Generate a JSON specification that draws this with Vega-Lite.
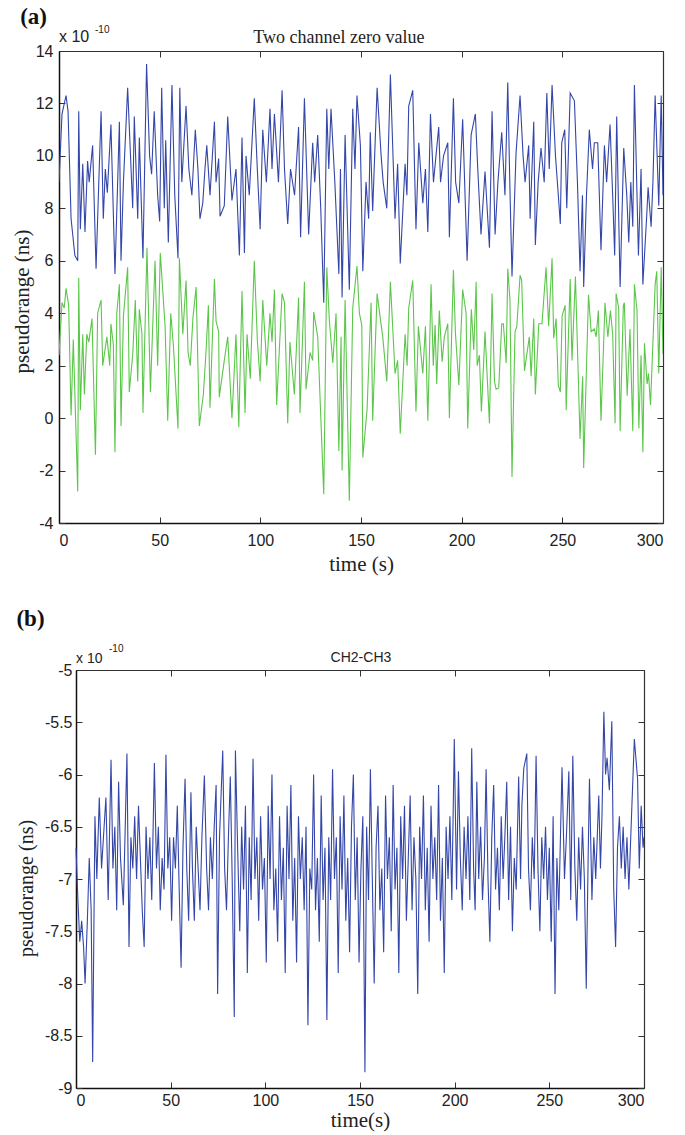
{
"$schema": "https://vega.github.io/schema/vega-lite/v6.json",
"background": "white",
"padding": {"left": 11, "top": 6, "right": 5, "bottom": 2},
"config": {
  "view": {"stroke": null},
  "font": "Liberation Sans",
  "axis": {"grid": false, "domainColor": "#111", "domainWidth": 1.5, "tickColor": "#333", "tickWidth": 1, "tickSize": -6, "labelColor": "#222", "titleColor": "#222", "labelFont": "Liberation Sans", "labelFontSize": 16, "titleFont": "Liberation Serif", "titleFontWeight": "normal", "titleFontSize": 20, "labelPadding": 10},
  "title": {"font": "Liberation Serif", "fontWeight": "bold", "fontSize": 23, "anchor": "start", "frame": "bounds", "color": "#111"}
},
"datasets": {
"a": [
{"s":"b","t":0,"v":9.0},{"s":"b","t":1.5,"v":11.6},{"s":"b","t":3.5,"v":12.3},{"s":"b","t":4.5,"v":11.7},{"s":"b","t":6,"v":7.6},{"s":"b","t":7.9,"v":6.2},{"s":"b","t":9.3,"v":6.0},{"s":"b","t":9.8,"v":11.7},{"s":"b","t":10.6,"v":7.2},{"s":"b","t":11.8,"v":9.7},{"s":"b","t":12.9,"v":7.1},{"s":"b","t":14.2,"v":9.8},{"s":"b","t":15,"v":9.0},{"s":"b","t":16.7,"v":10.4},{"s":"b","t":18.4,"v":5.7},{"s":"b","t":20.9,"v":11.7},{"s":"b","t":22,"v":7.6},{"s":"b","t":23,"v":9.5},{"s":"b","t":24,"v":8.6},{"s":"b","t":25.8,"v":11.2},{"s":"b","t":27.8,"v":5.5},{"s":"b","t":30,"v":11.3},{"s":"b","t":30.8,"v":6.0},{"s":"b","t":32,"v":9.0},{"s":"b","t":34.1,"v":12.6},{"s":"b","t":36.6,"v":8.0},{"s":"b","t":37.4,"v":11.5},{"s":"b","t":39.1,"v":7.6},{"s":"b","t":39.9,"v":10.7},{"s":"b","t":41.7,"v":6.1},{"s":"b","t":43.5,"v":13.5},{"s":"b","t":45,"v":10.0},{"s":"b","t":46,"v":9.3},{"s":"b","t":47.3,"v":11.7},{"s":"b","t":49,"v":8.5},{"s":"b","t":50,"v":7.5},{"s":"b","t":51,"v":12.6},{"s":"b","t":52.3,"v":8.0},{"s":"b","t":53,"v":10.6},{"s":"b","t":54.3,"v":6.7},{"s":"b","t":56.1,"v":12.7},{"s":"b","t":57.5,"v":8.5},{"s":"b","t":59.1,"v":6.1},{"s":"b","t":60,"v":12.6},{"s":"b","t":61,"v":9.0},{"s":"b","t":63.1,"v":11.9},{"s":"b","t":64.5,"v":9.5},{"s":"b","t":66,"v":8.5},{"s":"b","t":67.7,"v":11.0},{"s":"b","t":69,"v":9.5},{"s":"b","t":70,"v":7.6},{"s":"b","t":71.4,"v":8.2},{"s":"b","t":72.5,"v":9.5},{"s":"b","t":73.4,"v":10.4},{"s":"b","t":75,"v":8.5},{"s":"b","t":77.2,"v":11.3},{"s":"b","t":78,"v":9.0},{"s":"b","t":79.3,"v":9.9},{"s":"b","t":80,"v":7.7},{"s":"b","t":82.1,"v":8.1},{"s":"b","t":83.8,"v":11.5},{"s":"b","t":85.9,"v":8.3},{"s":"b","t":87.9,"v":9.5},{"s":"b","t":89.6,"v":6.2},{"s":"b","t":90.9,"v":10.7},{"s":"b","t":92.1,"v":6.3},{"s":"b","t":92.9,"v":10.0},{"s":"b","t":94.5,"v":8.5},{"s":"b","t":97,"v":12.2},{"s":"b","t":98.5,"v":9.5},{"s":"b","t":99.9,"v":7.2},{"s":"b","t":101.2,"v":11.0},{"s":"b","t":103,"v":9.0},{"s":"b","t":104.8,"v":11.8},{"s":"b","t":105.8,"v":9.5},{"s":"b","t":107,"v":11.6},{"s":"b","t":109,"v":9.0},{"s":"b","t":110.8,"v":12.5},{"s":"b","t":112,"v":9.5},{"s":"b","t":113.6,"v":7.4},{"s":"b","t":115,"v":9.5},{"s":"b","t":117,"v":8.5},{"s":"b","t":119,"v":11.1},{"s":"b","t":120,"v":6.9},{"s":"b","t":121.9,"v":12.2},{"s":"b","t":124,"v":7.0},{"s":"b","t":126,"v":10.5},{"s":"b","t":127,"v":9.0},{"s":"b","t":128.5,"v":10.8},{"s":"b","t":130,"v":8.0},{"s":"b","t":131.5,"v":4.4},{"s":"b","t":133,"v":11.8},{"s":"b","t":134,"v":9.5},{"s":"b","t":135.1,"v":11.8},{"s":"b","t":137,"v":9.0},{"s":"b","t":139,"v":5.5},{"s":"b","t":139.8,"v":9.5},{"s":"b","t":140.6,"v":4.6},{"s":"b","t":142.1,"v":10.8},{"s":"b","t":144.2,"v":4.9},{"s":"b","t":145.9,"v":11.8},{"s":"b","t":147,"v":9.5},{"s":"b","t":148,"v":12.3},{"s":"b","t":149.7,"v":10.4},{"s":"b","t":150.9,"v":5.6},{"s":"b","t":152.5,"v":9.0},{"s":"b","t":153.8,"v":7.6},{"s":"b","t":154.6,"v":10.9},{"s":"b","t":155.8,"v":7.9},{"s":"b","t":158,"v":12.6},{"s":"b","t":160,"v":10.0},{"s":"b","t":161,"v":9.0},{"s":"b","t":162.8,"v":8.0},{"s":"b","t":164.6,"v":13.1},{"s":"b","t":166.9,"v":7.6},{"s":"b","t":168.2,"v":9.7},{"s":"b","t":169.5,"v":5.9},{"s":"b","t":171.9,"v":9.7},{"s":"b","t":172.8,"v":8.5},{"s":"b","t":173.7,"v":11.9},{"s":"b","t":175.7,"v":12.5},{"s":"b","t":177.3,"v":7.2},{"s":"b","t":178.7,"v":10.5},{"s":"b","t":180.7,"v":8.2},{"s":"b","t":182,"v":9.5},{"s":"b","t":183.2,"v":7.1},{"s":"b","t":184.5,"v":11.6},{"s":"b","t":186,"v":9.0},{"s":"b","t":188.6,"v":11.1},{"s":"b","t":189.5,"v":9.0},{"s":"b","t":191,"v":10.0},{"s":"b","t":193.1,"v":10.5},{"s":"b","t":193.9,"v":6.9},{"s":"b","t":195.9,"v":12.2},{"s":"b","t":197,"v":9.0},{"s":"b","t":198.6,"v":8.2},{"s":"b","t":200.5,"v":11.4},{"s":"b","t":202.7,"v":6.0},{"s":"b","t":204.7,"v":10.8},{"s":"b","t":206.8,"v":11.6},{"s":"b","t":208,"v":9.5},{"s":"b","t":209.6,"v":7.0},{"s":"b","t":211.6,"v":9.4},{"s":"b","t":213.8,"v":6.5},{"s":"b","t":215.1,"v":11.7},{"s":"b","t":216.6,"v":7.0},{"s":"b","t":218,"v":9.0},{"s":"b","t":219.9,"v":10.9},{"s":"b","t":221.5,"v":8.5},{"s":"b","t":222.9,"v":12.8},{"s":"b","t":223.9,"v":9.0},{"s":"b","t":225,"v":5.4},{"s":"b","t":227,"v":10.1},{"s":"b","t":229,"v":12.3},{"s":"b","t":230.5,"v":10.0},{"s":"b","t":231.5,"v":9.0},{"s":"b","t":233.3,"v":10.4},{"s":"b","t":234,"v":7.6},{"s":"b","t":235.8,"v":11.3},{"s":"b","t":236.6,"v":6.6},{"s":"b","t":238,"v":9.0},{"s":"b","t":239.4,"v":10.3},{"s":"b","t":241,"v":9.0},{"s":"b","t":242.3,"v":12.4},{"s":"b","t":243.5,"v":9.5},{"s":"b","t":244.9,"v":12.7},{"s":"b","t":246.6,"v":10.0},{"s":"b","t":248,"v":8.5},{"s":"b","t":249,"v":7.4},{"s":"b","t":249.7,"v":10.5},{"s":"b","t":251.2,"v":11.0},{"s":"b","t":252.2,"v":8.0},{"s":"b","t":253.9,"v":12.4},{"s":"b","t":256,"v":12.1},{"s":"b","t":257.5,"v":9.0},{"s":"b","t":258.8,"v":5.6},{"s":"b","t":260,"v":8.5},{"s":"b","t":260.6,"v":5.0},{"s":"b","t":262,"v":8.5},{"s":"b","t":263.4,"v":11.0},{"s":"b","t":265,"v":9.5},{"s":"b","t":265.9,"v":10.5},{"s":"b","t":267.6,"v":10.5},{"s":"b","t":269.2,"v":6.4},{"s":"b","t":270.9,"v":10.4},{"s":"b","t":272,"v":9.0},{"s":"b","t":273.7,"v":11.2},{"s":"b","t":275,"v":8.5},{"s":"b","t":276,"v":6.2},{"s":"b","t":277,"v":11.5},{"s":"b","t":278.7,"v":5.0},{"s":"b","t":280.5,"v":10.3},{"s":"b","t":282,"v":8.5},{"s":"b","t":283,"v":6.7},{"s":"b","t":284,"v":9.0},{"s":"b","t":285,"v":7.3},{"s":"b","t":285.8,"v":12.7},{"s":"b","t":287.8,"v":6.2},{"s":"b","t":289.1,"v":9.5},{"s":"b","t":290,"v":5.1},{"s":"b","t":291.9,"v":7.7},{"s":"b","t":292.6,"v":8.8},{"s":"b","t":294.1,"v":7.3},{"s":"b","t":295,"v":9.0},{"s":"b","t":296.1,"v":12.3},{"s":"b","t":297.9,"v":8.1},{"s":"b","t":299.1,"v":12.3},{"s":"b","t":300,"v":8.5},
{"s":"g","t":0,"v":2.4},{"s":"g","t":1.5,"v":4.4},{"s":"g","t":2.6,"v":4.2},{"s":"g","t":3.5,"v":4.95},{"s":"g","t":4.8,"v":4.3},{"s":"g","t":6,"v":0.1},{"s":"g","t":7.1,"v":3.0},{"s":"g","t":9.3,"v":-2.8},{"s":"g","t":9.8,"v":5.35},{"s":"g","t":10.6,"v":0.3},{"s":"g","t":11.8,"v":3.2},{"s":"g","t":12.6,"v":0.9},{"s":"g","t":13.8,"v":3.2},{"s":"g","t":14.8,"v":2.9},{"s":"g","t":16.4,"v":3.8},{"s":"g","t":18.1,"v":-1.4},{"s":"g","t":19.2,"v":4.0},{"s":"g","t":20.9,"v":4.5},{"s":"g","t":21.7,"v":2.0},{"s":"g","t":23.8,"v":3.1},{"s":"g","t":25.2,"v":2.0},{"s":"g","t":25.8,"v":3.6},{"s":"g","t":27,"v":2.8},{"s":"g","t":27.8,"v":-1.3},{"s":"g","t":28.7,"v":4.0},{"s":"g","t":30,"v":5.1},{"s":"g","t":30.8,"v":-0.3},{"s":"g","t":32,"v":3.9},{"s":"g","t":34.1,"v":5.75},{"s":"g","t":34.9,"v":1.0},{"s":"g","t":36.6,"v":2.4},{"s":"g","t":37.9,"v":4.5},{"s":"g","t":39.1,"v":1.4},{"s":"g","t":39.9,"v":4.15},{"s":"g","t":41.2,"v":3.2},{"s":"g","t":41.7,"v":0.2},{"s":"g","t":43.7,"v":6.5},{"s":"g","t":45.4,"v":1.0},{"s":"g","t":47.7,"v":6.0},{"s":"g","t":49,"v":2.0},{"s":"g","t":50.3,"v":6.3},{"s":"g","t":52.7,"v":3.5},{"s":"g","t":54,"v":-0.1},{"s":"g","t":55.5,"v":4.0},{"s":"g","t":56.8,"v":2.8},{"s":"g","t":59.1,"v":-0.4},{"s":"g","t":59.8,"v":6.1},{"s":"g","t":61.5,"v":3.2},{"s":"g","t":63.1,"v":5.25},{"s":"g","t":64.1,"v":2.5},{"s":"g","t":65.2,"v":2.0},{"s":"g","t":66.5,"v":3.8},{"s":"g","t":68.1,"v":5.0},{"s":"g","t":69.7,"v":-0.3},{"s":"g","t":71.7,"v":0.9},{"s":"g","t":73,"v":2.5},{"s":"g","t":74.2,"v":4.3},{"s":"g","t":75,"v":0.4},{"s":"g","t":77.2,"v":5.3},{"s":"g","t":78,"v":3.7},{"s":"g","t":79.3,"v":3.3},{"s":"g","t":79.6,"v":0.8},{"s":"g","t":82.1,"v":2.2},{"s":"g","t":83.8,"v":3.1},{"s":"g","t":85.9,"v":0.0},{"s":"g","t":87.9,"v":3.2},{"s":"g","t":89.3,"v":-0.35},{"s":"g","t":90.9,"v":4.85},{"s":"g","t":92.4,"v":0.2},{"s":"g","t":93.4,"v":3.2},{"s":"g","t":95,"v":1.5},{"s":"g","t":97,"v":6.0},{"s":"g","t":98.5,"v":3.0},{"s":"g","t":99.9,"v":1.4},{"s":"g","t":101.2,"v":4.5},{"s":"g","t":103.2,"v":2.0},{"s":"g","t":104.8,"v":4.0},{"s":"g","t":105.8,"v":2.9},{"s":"g","t":107,"v":4.9},{"s":"g","t":108.1,"v":0.5},{"s":"g","t":110.8,"v":4.75},{"s":"g","t":112,"v":4.4},{"s":"g","t":113.6,"v":-0.2},{"s":"g","t":114.7,"v":2.9},{"s":"g","t":116.9,"v":0.9},{"s":"g","t":119,"v":4.6},{"s":"g","t":119.7,"v":0.2},{"s":"g","t":121.9,"v":5.2},{"s":"g","t":122.7,"v":1.1},{"s":"g","t":124.7,"v":2.5},{"s":"g","t":126,"v":2.2},{"s":"g","t":126.5,"v":4.05},{"s":"g","t":128.5,"v":3.1},{"s":"g","t":131.5,"v":-2.9},{"s":"g","t":133,"v":5.75},{"s":"g","t":134.3,"v":3.7},{"s":"g","t":136,"v":2.1},{"s":"g","t":137.6,"v":4.0},{"s":"g","t":139,"v":-1.25},{"s":"g","t":140.1,"v":3.1},{"s":"g","t":140.6,"v":-2.0},{"s":"g","t":142.1,"v":4.5},{"s":"g","t":144.2,"v":-3.15},{"s":"g","t":145.9,"v":4.2},{"s":"g","t":148,"v":5.8},{"s":"g","t":149.2,"v":4.0},{"s":"g","t":150.4,"v":3.55},{"s":"g","t":150.9,"v":-1.5},{"s":"g","t":153,"v":0.3},{"s":"g","t":155,"v":4.4},{"s":"g","t":155.8,"v":-0.1},{"s":"g","t":158,"v":4.75},{"s":"g","t":160.8,"v":3.1},{"s":"g","t":162.8,"v":1.4},{"s":"g","t":164.6,"v":5.2},{"s":"g","t":166.9,"v":1.7},{"s":"g","t":168.2,"v":2.2},{"s":"g","t":169.5,"v":-0.6},{"s":"g","t":171.9,"v":3.2},{"s":"g","t":172.9,"v":2.0},{"s":"g","t":173.7,"v":4.2},{"s":"g","t":175.7,"v":5.25},{"s":"g","t":177.3,"v":0.25},{"s":"g","t":178.5,"v":3.5},{"s":"g","t":180.7,"v":1.7},{"s":"g","t":182,"v":3.5},{"s":"g","t":183.2,"v":-0.1},{"s":"g","t":184.8,"v":5.1},{"s":"g","t":185.9,"v":2.0},{"s":"g","t":186.8,"v":3.55},{"s":"g","t":187.6,"v":1.3},{"s":"g","t":188.9,"v":4.1},{"s":"g","t":190.3,"v":2.15},{"s":"g","t":191.4,"v":3.1},{"s":"g","t":193.1,"v":3.6},{"s":"g","t":193.9,"v":0.0},{"s":"g","t":195.9,"v":5.65},{"s":"g","t":196.9,"v":3.25},{"s":"g","t":198.6,"v":1.25},{"s":"g","t":200.5,"v":4.9},{"s":"g","t":202.2,"v":4.0},{"s":"g","t":203,"v":-0.4},{"s":"g","t":204.8,"v":4.15},{"s":"g","t":206,"v":2.6},{"s":"g","t":207.2,"v":5.2},{"s":"g","t":207.7,"v":2.0},{"s":"g","t":208.8,"v":2.4},{"s":"g","t":209.8,"v":0.25},{"s":"g","t":211.6,"v":3.3},{"s":"g","t":213.8,"v":-0.2},{"s":"g","t":215.1,"v":4.75},{"s":"g","t":216.3,"v":1.4},{"s":"g","t":217.1,"v":1.1},{"s":"g","t":218.4,"v":1.15},{"s":"g","t":219.9,"v":3.6},{"s":"g","t":220.7,"v":3.6},{"s":"g","t":222.1,"v":2.1},{"s":"g","t":222.9,"v":5.7},{"s":"g","t":224,"v":4.5},{"s":"g","t":225,"v":-2.25},{"s":"g","t":226.5,"v":3.3},{"s":"g","t":227.4,"v":3.5},{"s":"g","t":229,"v":5.45},{"s":"g","t":229.8,"v":5.25},{"s":"g","t":231.2,"v":1.8},{"s":"g","t":233.6,"v":3.1},{"s":"g","t":234.5,"v":1.6},{"s":"g","t":235.8,"v":3.8},{"s":"g","t":236.6,"v":0.9},{"s":"g","t":238.3,"v":3.6},{"s":"g","t":239.9,"v":3.6},{"s":"g","t":241.9,"v":5.75},{"s":"g","t":243.2,"v":3.5},{"s":"g","t":244.9,"v":6.1},{"s":"g","t":245.7,"v":3.05},{"s":"g","t":246.9,"v":3.8},{"s":"g","t":248,"v":1.25},{"s":"g","t":249,"v":1.0},{"s":"g","t":249.9,"v":3.9},{"s":"g","t":251.4,"v":4.3},{"s":"g","t":251.9,"v":0.3},{"s":"g","t":253.9,"v":5.3},{"s":"g","t":254.8,"v":2.2},{"s":"g","t":256.5,"v":5.4},{"s":"g","t":258.8,"v":-0.8},{"s":"g","t":260.1,"v":1.6},{"s":"g","t":260.6,"v":-1.9},{"s":"g","t":263,"v":4.7},{"s":"g","t":264.3,"v":3.3},{"s":"g","t":265.9,"v":3.4},{"s":"g","t":266.8,"v":3.1},{"s":"g","t":267.9,"v":4.1},{"s":"g","t":269.2,"v":-0.1},{"s":"g","t":271.2,"v":4.4},{"s":"g","t":272.6,"v":3.1},{"s":"g","t":273.9,"v":4.1},{"s":"g","t":275,"v":3.2},{"s":"g","t":276.2,"v":-0.2},{"s":"g","t":276.7,"v":4.75},{"s":"g","t":278,"v":4.2},{"s":"g","t":278.7,"v":-0.5},{"s":"g","t":280.3,"v":4.3},{"s":"g","t":280.8,"v":4.4},{"s":"g","t":282.2,"v":0.85},{"s":"g","t":283.6,"v":3.4},{"s":"g","t":285,"v":-0.5},{"s":"g","t":285.8,"v":5.1},{"s":"g","t":287.1,"v":4.1},{"s":"g","t":288,"v":-0.4},{"s":"g","t":289.1,"v":2.4},{"s":"g","t":290,"v":-1.3},{"s":"g","t":290.8,"v":2.85},{"s":"g","t":292.1,"v":1.3},{"s":"g","t":292.8,"v":1.7},{"s":"g","t":293.8,"v":0.5},{"s":"g","t":296.1,"v":5.1},{"s":"g","t":296.9,"v":5.6},{"s":"g","t":297.9,"v":1.7},{"s":"g","t":299.1,"v":5.75},{"s":"g","t":300,"v":2.45}
],
"c": [
{"t":0,"v":-6.7},{"t":1,"v":-7.2},{"t":2,"v":-7.6},{"t":3,"v":-7.4},{"t":4,"v":-7.65},{"t":4.8,"v":-8.0},{"t":6,"v":-7.4},{"t":7,"v":-6.8},{"t":8,"v":-7.3},{"t":8.8,"v":-8.75},{"t":10,"v":-6.4},{"t":11,"v":-7.0},{"t":12.3,"v":-6.22},{"t":13.5,"v":-6.9},{"t":14.5,"v":-6.6},{"t":15.8,"v":-6.22},{"t":17,"v":-7.2},{"t":18.5,"v":-5.86},{"t":19.5,"v":-6.9},{"t":20.5,"v":-6.5},{"t":21.5,"v":-7.3},{"t":22.5,"v":-6.07},{"t":23.5,"v":-6.8},{"t":25,"v":-7.25},{"t":26,"v":-6.5},{"t":26.9,"v":-5.8},{"t":28,"v":-7.65},{"t":29,"v":-6.6},{"t":30,"v":-6.9},{"t":31,"v":-6.4},{"t":32,"v":-7.0},{"t":33,"v":-6.3},{"t":34,"v":-6.8},{"t":35,"v":-7.3},{"t":36,"v":-7.65},{"t":37,"v":-6.5},{"t":38,"v":-7.0},{"t":39,"v":-6.6},{"t":40,"v":-7.2},{"t":41.4,"v":-5.89},{"t":42.5,"v":-6.9},{"t":43.5,"v":-6.5},{"t":44.5,"v":-7.3},{"t":45.5,"v":-6.8},{"t":46.5,"v":-7.1},{"t":47.5,"v":-5.81},{"t":48.5,"v":-6.9},{"t":49.5,"v":-6.6},{"t":50.5,"v":-7.4},{"t":51.5,"v":-6.6},{"t":52.5,"v":-6.9},{"t":53.5,"v":-6.3},{"t":54.5,"v":-7.1},{"t":55.5,"v":-7.85},{"t":56.5,"v":-6.7},{"t":57.6,"v":-6.04},{"t":58.5,"v":-6.9},{"t":59.5,"v":-7.4},{"t":60.7,"v":-6.17},{"t":61.5,"v":-6.9},{"t":62.5,"v":-7.4},{"t":63.5,"v":-6.5},{"t":64.5,"v":-6.9},{"t":65.5,"v":-7.3},{"t":66.5,"v":-6.6},{"t":67.8,"v":-6.01},{"t":69,"v":-6.9},{"t":70,"v":-7.3},{"t":71,"v":-6.6},{"t":72,"v":-7.0},{"t":73,"v":-6.5},{"t":74,"v":-6.1},{"t":74.8,"v":-8.1},{"t":75.8,"v":-6.6},{"t":77.5,"v":-5.77},{"t":78.5,"v":-6.9},{"t":79.5,"v":-7.3},{"t":80.5,"v":-6.6},{"t":81.5,"v":-6.02},{"t":82.5,"v":-7.0},{"t":83.6,"v":-8.32},{"t":84.2,"v":-5.77},{"t":85.5,"v":-6.8},{"t":86.5,"v":-7.5},{"t":87.5,"v":-6.5},{"t":88.5,"v":-7.1},{"t":89.5,"v":-6.3},{"t":90.5,"v":-7.9},{"t":91.5,"v":-6.6},{"t":92.5,"v":-7.2},{"t":93.5,"v":-5.85},{"t":94.5,"v":-7.0},{"t":95.5,"v":-6.6},{"t":96.5,"v":-7.4},{"t":97.5,"v":-6.4},{"t":98.5,"v":-7.1},{"t":99.5,"v":-6.8},{"t":100.5,"v":-7.8},{"t":101.5,"v":-6.3},{"t":102.5,"v":-7.0},{"t":103.5,"v":-6.0},{"t":104.5,"v":-7.3},{"t":105.5,"v":-6.9},{"t":106.5,"v":-7.6},{"t":107.5,"v":-6.4},{"t":108.5,"v":-7.2},{"t":109.5,"v":-6.7},{"t":110.5,"v":-7.9},{"t":111.5,"v":-6.3},{"t":112.5,"v":-7.0},{"t":113.5,"v":-6.1},{"t":114.5,"v":-7.4},{"t":115.5,"v":-6.8},{"t":116.5,"v":-7.8},{"t":117.5,"v":-6.4},{"t":118.5,"v":-7.0},{"t":119.5,"v":-6.6},{"t":120.5,"v":-7.3},{"t":121.5,"v":-6.5},{"t":122.5,"v":-8.4},{"t":123.5,"v":-6.9},{"t":124.5,"v":-7.1},{"t":125.5,"v":-6.0},{"t":126.5,"v":-7.3},{"t":127.5,"v":-6.8},{"t":128.5,"v":-7.6},{"t":129.5,"v":-6.2},{"t":130.5,"v":-7.2},{"t":131.5,"v":-6.7},{"t":132.5,"v":-8.35},{"t":133.5,"v":-6.6},{"t":134.5,"v":-7.2},{"t":135.5,"v":-5.95},{"t":136.5,"v":-7.0},{"t":137.5,"v":-6.6},{"t":138.5,"v":-7.9},{"t":139.5,"v":-6.4},{"t":140.5,"v":-7.1},{"t":141.5,"v":-6.2},{"t":142.5,"v":-7.4},{"t":143.5,"v":-6.8},{"t":144.5,"v":-7.7},{"t":145.5,"v":-6.5},{"t":146.5,"v":-6.0},{"t":147.5,"v":-7.2},{"t":148.5,"v":-6.6},{"t":149.5,"v":-7.8},{"t":150.5,"v":-6.9},{"t":151.5,"v":-6.4},{"t":152.6,"v":-8.85},{"t":153.5,"v":-6.5},{"t":154.5,"v":-7.2},{"t":155.5,"v":-5.95},{"t":156.5,"v":-7.0},{"t":157.5,"v":-8.0},{"t":158.5,"v":-6.7},{"t":159.5,"v":-6.3},{"t":160.5,"v":-7.3},{"t":161.5,"v":-6.9},{"t":162.5,"v":-7.7},{"t":163.5,"v":-6.2},{"t":164.5,"v":-7.0},{"t":165.5,"v":-6.6},{"t":166.5,"v":-7.5},{"t":167.5,"v":-6.1},{"t":168.5,"v":-7.1},{"t":169.5,"v":-6.7},{"t":170.5,"v":-7.9},{"t":171.5,"v":-6.4},{"t":172.5,"v":-7.0},{"t":173.5,"v":-6.3},{"t":174.5,"v":-7.4},{"t":175.5,"v":-6.8},{"t":176.5,"v":-6.2},{"t":177.5,"v":-7.3},{"t":178.5,"v":-6.6},{"t":179.5,"v":-7.0},{"t":180.5,"v":-8.1},{"t":181.5,"v":-6.5},{"t":182.5,"v":-7.0},{"t":183.5,"v":-6.2},{"t":184.5,"v":-7.3},{"t":185.5,"v":-6.7},{"t":186.5,"v":-7.6},{"t":187.5,"v":-6.3},{"t":188.5,"v":-7.0},{"t":189.5,"v":-6.6},{"t":190.5,"v":-7.2},{"t":191.5,"v":-6.1},{"t":192.5,"v":-7.4},{"t":193.5,"v":-6.8},{"t":194.5,"v":-7.9},{"t":195.5,"v":-6.5},{"t":196.5,"v":-7.0},{"t":197.5,"v":-6.4},{"t":198.5,"v":-7.2},{"t":199.8,"v":-5.66},{"t":201,"v":-7.1},{"t":202,"v":-5.97},{"t":203,"v":-6.8},{"t":204,"v":-7.3},{"t":205,"v":-6.5},{"t":206,"v":-7.0},{"t":207,"v":-6.4},{"t":208,"v":-7.2},{"t":209,"v":-5.75},{"t":210,"v":-6.9},{"t":210.8,"v":-7.3},{"t":211.7,"v":-6.07},{"t":212.7,"v":-7.0},{"t":213.7,"v":-6.5},{"t":214.7,"v":-7.2},{"t":215.7,"v":-6.8},{"t":216.6,"v":-5.95},{"t":217.6,"v":-7.0},{"t":218.6,"v":-7.6},{"t":219.6,"v":-6.6},{"t":220.6,"v":-6.1},{"t":221.6,"v":-7.1},{"t":222.6,"v":-6.7},{"t":223.6,"v":-7.3},{"t":224.6,"v":-6.4},{"t":225.6,"v":-7.0},{"t":226.5,"v":-6.6},{"t":227.5,"v":-6.07},{"t":228.5,"v":-7.2},{"t":229.5,"v":-6.5},{"t":230.5,"v":-7.5},{"t":231.5,"v":-6.8},{"t":232.5,"v":-7.1},{"t":233.8,"v":-6.02},{"t":234.8,"v":-7.0},{"t":235.5,"v":-6.3},{"t":236.5,"v":-5.94},{"t":238.1,"v":-5.8},{"t":239,"v":-6.9},{"t":240,"v":-7.3},{"t":241,"v":-6.6},{"t":242,"v":-7.0},{"t":243,"v":-5.82},{"t":244,"v":-6.9},{"t":245,"v":-7.5},{"t":246,"v":-6.6},{"t":247,"v":-7.0},{"t":248,"v":-6.5},{"t":249,"v":-7.2},{"t":250,"v":-6.7},{"t":251,"v":-7.6},{"t":252,"v":-6.4},{"t":253,"v":-8.1},{"t":254,"v":-6.8},{"t":255,"v":-7.3},{"t":256.7,"v":-5.93},{"t":258,"v":-7.0},{"t":259,"v":-6.6},{"t":260.3,"v":-5.97},{"t":261.3,"v":-7.2},{"t":262.4,"v":-5.82},{"t":263.5,"v":-6.9},{"t":264.5,"v":-7.4},{"t":265.5,"v":-6.6},{"t":266.5,"v":-7.1},{"t":267.5,"v":-6.5},{"t":268.5,"v":-7.0},{"t":269.5,"v":-8.05},{"t":270.5,"v":-6.8},{"t":271.2,"v":-6.04},{"t":272.5,"v":-7.2},{"t":273.5,"v":-6.6},{"t":274.5,"v":-7.0},{"t":275.5,"v":-6.5},{"t":276.1,"v":-6.2},{"t":277,"v":-6.9},{"t":277.8,"v":-6.4},{"t":278.8,"v":-5.4},{"t":279.7,"v":-6.0},{"t":280.5,"v":-5.84},{"t":281.7,"v":-6.15},{"t":283,"v":-5.49},{"t":284,"v":-7.1},{"t":285,"v":-7.65},{"t":286,"v":-6.7},{"t":287,"v":-6.4},{"t":288,"v":-6.9},{"t":289,"v":-6.5},{"t":290,"v":-7.0},{"t":291,"v":-6.6},{"t":292,"v":-7.1},{"t":293,"v":-6.6},{"t":294.9,"v":-5.66},{"t":296.6,"v":-6.04},{"t":297.5,"v":-6.9},{"t":298.5,"v":-6.3},{"t":299.5,"v":-6.7},{"t":300,"v":-6.6}
]
},
"concat": [
{
  "width": 604, "height": 472,
  "title": {"text": "(a)", "offset": -4, "dx": 9},
  "layer": [
    {
      "data": {"name": "a"},
      "mark": {"type": "line", "strokeWidth": 1.1, "clip": true},
      "encoding": {
        "x": {"field": "t", "type": "quantitative", "scale": {"domain": [0, 300], "nice": false, "zero": false},
              "axis": {"orient": "bottom", "values": [0, 50, 100, 150, 200, 250, 300], "title": "time (s)", "titlePadding": 5, "labelPadding": 15, "titleFontSize": 21}},
        "y": {"field": "v", "type": "quantitative", "scale": {"domain": [-4, 14], "nice": false, "zero": false},
              "axis": {"orient": "left", "values": [-4, -2, 0, 2, 4, 6, 8, 10, 12, 14], "labelExpr": "'' + datum.value", "title": "pseudorange (ns)", "titlePadding": 3, "labelPadding": 12, "titleFontSize": 21, "titleY": 250}},
        "color": {"field": "s", "type": "nominal", "scale": {"domain": ["b", "g"], "range": ["#3446a8", "#5cc64b"]}, "legend": null}
      }
    },
    {
      "data": {"values": [{"t": 0, "v": -4}]},
      "mark": {"type": "point", "opacity": 0},
      "encoding": {
        "x": {"field": "t", "type": "quantitative", "scale": {"domain": [0, 300], "nice": false, "zero": false},
              "axis": {"orient": "top", "values": [0, 50, 100, 150, 200, 250, 300], "labels": false, "title": null, "domainColor": "#333", "domainWidth": 1.2}},
        "y": {"field": "v", "type": "quantitative", "scale": {"domain": [-4, 14], "nice": false, "zero": false},
              "axis": {"orient": "right", "values": [-4, -2, 0, 2, 4, 6, 8, 10, 12, 14], "labels": false, "title": null, "domainColor": "#333", "domainWidth": 1.2}}
      }
    },
    {
      "data": {"values": [{"label": "Two channel zero value", "t": 139, "v": 14}]},
      "mark": {"type": "text", "font": "Liberation Serif", "fontSize": 18, "align": "center", "baseline": "alphabetic", "dy": -8, "color": "#222"},
      "encoding": {
        "x": {"field": "t", "type": "quantitative", "axis": null},
        "y": {"field": "v", "type": "quantitative", "axis": null},
        "text": {"field": "label"}
      }
    },
    {
      "data": {"values": [{"label": "x 10", "t": 0, "v": 14}]},
      "mark": {"type": "text", "font": "Liberation Sans", "fontSize": 16, "align": "left", "baseline": "alphabetic", "dy": -9, "color": "#222"},
      "encoding": {
        "x": {"field": "t", "type": "quantitative", "axis": null},
        "y": {"field": "v", "type": "quantitative", "axis": null},
        "text": {"field": "label"}
      }
    },
    {
      "data": {"values": [{"label": "-10", "t": 0, "v": 14}]},
      "mark": {"type": "text", "font": "Liberation Sans", "fontSize": 10, "align": "left", "baseline": "alphabetic", "dx": 36, "dy": -18, "color": "#222"},
      "encoding": {
        "x": {"field": "t", "type": "quantitative", "axis": null},
        "y": {"field": "v", "type": "quantitative", "axis": null},
        "text": {"field": "label"}
      }
    }
  ],
  "resolve": {"axis": {"x": "independent", "y": "independent"}}
},
{
  "width": 585, "height": 418,
  "title": {"text": "(b)", "offset": 13},
  "layer": [
    {
      "data": {"name": "c"},
      "mark": {"type": "line", "strokeWidth": 1.1, "clip": true, "color": "#3446a8"},
      "encoding": {
        "x": {"field": "t", "type": "quantitative", "scale": {"domain": [0, 300], "nice": false, "zero": false, "range": [17, 585]},
              "axis": {"orient": "bottom", "values": [0, 50, 100, 150, 200, 250, 300], "title": "time(s)", "titlePadding": 1, "titleFontSize": 21}},
        "y": {"field": "v", "type": "quantitative", "scale": {"domain": [-9, -5], "nice": false, "zero": false},
              "axis": {"orient": "left", "offset": -17, "values": [-9, -8.5, -8, -7.5, -7, -6.5, -6, -5.5, -5], "labelExpr": "'' + datum.value", "title": "pseudorange  (ns)", "titlePadding": 8, "titleFontSize": 20, "titleY": 218}}
      }
    },
    {
      "data": {"values": [{"t": 0, "v": -9}]},
      "mark": {"type": "point", "opacity": 0},
      "encoding": {
        "x": {"field": "t", "type": "quantitative", "scale": {"domain": [0, 300], "nice": false, "zero": false, "range": [17, 585]},
              "axis": {"orient": "top", "values": [0, 50, 100, 150, 200, 250, 300], "labels": false, "title": null, "domainColor": "#333", "domainWidth": 1.2}},
        "y": {"field": "v", "type": "quantitative", "scale": {"domain": [-9, -5], "nice": false, "zero": false},
              "axis": {"orient": "right", "values": [-9, -8.5, -8, -7.5, -7, -6.5, -6, -5.5, -5], "labels": false, "title": null, "domainColor": "#333", "domainWidth": 1.2}}
      }
    },
    {
      "data": {"values": [{"label": "CH2-CH3", "t": 150.5, "v": -5}]},
      "mark": {"type": "text", "font": "Liberation Sans", "fontSize": 14, "align": "center", "baseline": "alphabetic", "dy": -8, "color": "#222"},
      "encoding": {
        "x": {"field": "t", "type": "quantitative", "axis": null},
        "y": {"field": "v", "type": "quantitative", "axis": null},
        "text": {"field": "label"}
      }
    },
    {
      "data": {"values": [{"label": "x 10", "t": 0, "v": -5}]},
      "mark": {"type": "text", "font": "Liberation Sans", "fontSize": 14, "align": "left", "baseline": "alphabetic", "dy": -7, "color": "#222"},
      "encoding": {
        "x": {"field": "t", "type": "quantitative", "axis": null},
        "y": {"field": "v", "type": "quantitative", "axis": null},
        "text": {"field": "label"}
      }
    },
    {
      "data": {"values": [{"label": "-10", "t": 0, "v": -5}]},
      "mark": {"type": "text", "font": "Liberation Sans", "fontSize": 10, "align": "left", "baseline": "alphabetic", "dx": 33, "dy": -18, "color": "#222"},
      "encoding": {
        "x": {"field": "t", "type": "quantitative", "axis": null},
        "y": {"field": "v", "type": "quantitative", "axis": null},
        "text": {"field": "label"}
      }
    }
  ],
  "resolve": {"axis": {"x": "independent", "y": "independent"}}
}
],
"columns": 1,
"align": "none",
"spacing": 34
}
